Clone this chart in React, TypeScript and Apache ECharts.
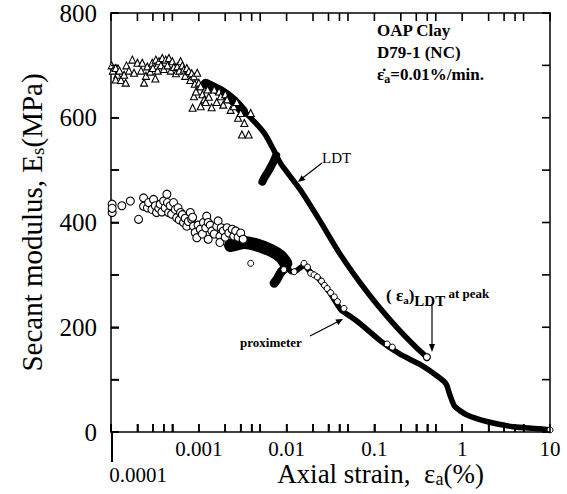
import React, { useEffect, useRef } from 'react';
import * as echarts from 'echarts';

const SERIF = '"Liberation Serif", "Times New Roman", serif';

// x axis (log) ticks and labels
const xTickValues = [
  0.0001, 0.0002, 0.0003, 0.0004, 0.0005,
  0.001, 0.002, 0.003, 0.004, 0.005,
  0.01, 0.02, 0.03, 0.04, 0.05,
  0.1, 0.2, 0.3, 0.4, 0.5,
  1, 2, 3, 4, 5, 10,
];
const xLabelValues = [0.0001, 0.001, 0.01, 0.1, 1, 10];
const xLabelTexts = ['0.0001', '0.001', '0.01', '0.1', '1', '10'];
const yTickValues = [0, 100, 200, 300, 400, 500, 600, 700, 800];

// LDT (triangles) scattered data at small strains
const ldtScatter = [
  [1.02e-4, 700], [1.05e-4, 690], [1.13e-4, 695], [1.18e-4, 682], [1.13e-4, 673],
  [1.25e-4, 690], [1.3e-4, 672], [1.41e-4, 682], [1.47e-4, 667], [1.5e-4, 700],
  [1.6e-4, 690], [1.75e-4, 711], [1.83e-4, 686], [2.0e-4, 705], [2.2e-4, 690],
  [2.27e-4, 705], [2.38e-4, 667], [2.5e-4, 680], [2.59e-4, 698], [2.8e-4, 688],
  [2.95e-4, 705], [3.0e-4, 695], [3.2e-4, 675], [3.24e-4, 711], [3.4e-4, 690],
  [3.52e-4, 708], [3.7e-4, 700], [3.84e-4, 714], [4.0e-4, 693], [4.2e-4, 711],
  [4.4e-4, 700], [4.57e-4, 714], [4.8e-4, 690], [4.99e-4, 708], [5.2e-4, 697],
  [5.5e-4, 685], [5.69e-4, 698], [6.0e-4, 690], [6.2e-4, 708], [6.5e-4, 700],
  [6.76e-4, 692], [7.0e-4, 680], [7.3e-4, 695], [7.7e-4, 689], [8.0e-4, 672],
  [8.3e-4, 685], [8.5e-4, 619], [8.8e-4, 641], [8.8e-4, 679], [9.0e-4, 665],
  [9.3e-4, 650], [9.6e-4, 686], [1.0e-3, 667], [1.05e-3, 660], [1.05e-3, 622],
  [1.1e-3, 645], [1.15e-3, 635], [1.2e-3, 630], [1.26e-3, 654], [1.3e-3, 640],
  [1.4e-3, 620], [1.5e-3, 654], [1.6e-3, 630], [1.7e-3, 650], [1.78e-3, 641],
  [1.9e-3, 625], [2.0e-3, 645], [2.1e-3, 635], [2.3e-3, 615], [2.5e-3, 622],
  [2.7e-3, 630], [2.8e-3, 600], [3.0e-3, 609], [3.1e-3, 568], [3.3e-3, 590],
  [3.7e-3, 568], [3.9e-3, 609],
];
// LDT dense band and continuous curve
const ldtBand = [[1.2e-3, 665], [1.8e-3, 650], [2.5e-3, 632], [3.2e-3, 612]];
const ldtLine = [
  [2.2e-3, 640], [2.8e-3, 622], [3.9e-3, 600], [5.6e-3, 570], [7.2e-3, 537],
  [8.6e-3, 512], [0.0145, 461], [0.024, 403], [0.0398, 342], [0.066, 289],
  [0.11, 241], [0.184, 198], [0.306, 160], [0.396, 143],
];
const ldtHook = [[5.3e-3, 478], [5.6e-3, 486], [6.2e-3, 498], [6.9e-3, 512], [7.6e-3, 528]];
const ldtPeak = [[0.396, 143]];

// Proximeter (circles) scattered data at small strains
const proxScatter = [
  [1.03e-4, 435], [1.03e-4, 419], [1.03e-4, 427], [1.33e-4, 432], [1.66e-4, 441],
  [2.06e-4, 406], [2.35e-4, 447], [2.35e-4, 431], [2.6e-4, 428], [2.68e-4, 438],
  [2.93e-4, 425], [3.05e-4, 444], [3.2e-4, 432], [3.3e-4, 419], [3.5e-4, 427],
  [3.63e-4, 435], [3.8e-4, 420], [3.98e-4, 441], [4.14e-4, 428], [4.33e-4, 454],
  [4.4e-4, 438], [4.53e-4, 419], [4.73e-4, 432], [4.9e-4, 416], [5.16e-4, 438],
  [5.4e-4, 425], [5.6e-4, 409], [5.8e-4, 428], [6.0e-4, 405], [6.2e-4, 419],
  [6.5e-4, 415], [6.7e-4, 400], [7.0e-4, 408], [7.3e-4, 393], [7.6e-4, 402],
  [8.0e-4, 419], [8.3e-4, 406], [8.5e-4, 410], [8.7e-4, 393], [9.1e-4, 381],
  [9.5e-4, 371], [9.8e-4, 395], [1.04e-3, 387], [1.1e-3, 378], [1.13e-3, 400],
  [1.2e-3, 390], [1.23e-3, 412], [1.28e-3, 400], [1.28e-3, 368], [1.35e-3, 395],
  [1.41e-3, 384], [1.5e-3, 378], [1.6e-3, 393], [1.66e-3, 403], [1.74e-3, 374],
  [1.74e-3, 362], [1.8e-3, 390], [1.9e-3, 384], [2.0e-3, 372], [2.1e-3, 390],
  [2.2e-3, 380], [2.4e-3, 387], [2.5e-3, 374], [2.63e-3, 384], [2.8e-3, 372],
  [3.0e-3, 380], [3.2e-3, 368],
];
// Proximeter dense band and continuous curve
const proxBand = [[2.3e-3, 356], [3.3e-3, 362], [4.6e-3, 357], [6.6e-3, 347], [8.6e-3, 335], [9.8e-3, 322]];
const proxLine = [
  [9.8e-3, 322], [0.0112, 306], [0.0122, 306], [0.0158, 318], [0.0188, 305],
  [0.0224, 296], [0.027, 279], [0.0317, 264], [0.0417, 233], [0.054, 220],
  [0.0698, 206], [0.117, 174], [0.198, 148], [0.331, 129], [0.556, 103],
  [0.66, 91], [0.72, 72], [0.82, 49], [1.12, 33], [1.9, 20], [3.8, 10],
  [7.6, 6], [10, 4],
];
const proxHook = [[7.2e-3, 284], [7.8e-3, 292], [8.6e-3, 305], [9.5e-3, 312]];
const proxOnLine = [
  [3.9e-3, 322], [9.3e-3, 310], [0.0122, 306], [0.0158, 322], [0.0173, 315],
  [0.0188, 303], [0.0205, 300], [0.0224, 296], [0.025, 288], [0.027, 280],
  [0.029, 274], [0.0317, 266], [0.035, 258], [0.038, 249], [0.045, 236],
  [0.14, 168], [0.16, 162], [10, 4],
];

const X_MIN = 0.0001;
const X_MAX = 10;
const Y_MIN = 0;
const Y_MAX = 800;

function xLabelFormatter(v: number): string {
  const i = xLabelValues.findIndex((t) => Math.abs(Math.log10(t) - Math.log10(v)) < 1e-6);
  if (i < 0) return '';
  return i === 0 ? '{low|' + xLabelTexts[0] + '}' : xLabelTexts[i];
}

export default function App() {
  const ref = useRef<HTMLDivElement>(null);
  useEffect(() => {
    if (!ref.current) return;
    const chart = echarts.init(ref.current, undefined, { renderer: 'svg' });
    const black = '#000';
    const TICK = 8;
    const tickStyle = () => ({ stroke: black, lineWidth: 1.6 });
    const lineSeries = (name: string, data: number[][], width: number) => ({
      name,
      type: 'line',
      data,
      symbol: 'none',
      smooth: 0.2,
      lineStyle: { color: black, width, cap: 'round', join: 'round' },
      z: 2,
    });
    const option: any = {
      animation: false,
      grid: { left: 111, right: 17, top: 13, bottom: 62, outerBoundsMode: 'none' },
      xAxis: [
        {
          type: 'log',
          min: X_MIN,
          max: X_MAX,
          position: 'bottom',
          name: 'Axial strain,  ε{sub|a}(%)',
          nameLocation: 'middle',
          nameGap: 27,
          nameMoveOverlap: false,
          nameTextStyle: {
            fontFamily: SERIF,
            fontSize: 27,
            color: '#000',
            padding: [0, 0, 0, 100],
            rich: { sub: { fontFamily: SERIF, fontSize: 18, color: '#000', padding: [11, 0, 0, 0] } },
          },
          axisLine: { show: true, onZero: false, lineStyle: { color: '#000', width: 1.5 } },
          axisTick: { show: true, inside: true, length: TICK, customValues: xTickValues, lineStyle: { color: '#000', width: 1.6 } },
          axisLabel: {
            show: true,
            customValues: xLabelValues,
            formatter: xLabelFormatter,
            margin: 6,
            fontFamily: SERIF,
            fontSize: 21,
            color: '#000',
            rich: { low: { fontFamily: SERIF, fontSize: 21, color: '#000', padding: [26, 0, 0, 54] } },
          },
          splitLine: { show: false },
        },
        {
          type: 'log',
          min: X_MIN,
          max: X_MAX,
          position: 'top',
          axisLine: { show: true, onZero: false, lineStyle: { color: '#000', width: 1.5 } },
          axisTick: { show: false },
          axisLabel: { show: false },
          splitLine: { show: false },
        },
      ],
      yAxis: [
        {
          type: 'value',
          min: Y_MIN,
          max: Y_MAX,
          interval: 100,
          position: 'left',
          name: 'Secant modulus, E{sub|s}(MPa)',
          nameLocation: 'middle',
          nameRotate: 90,
          nameGap: 64,
          nameMoveOverlap: false,
          nameTextStyle: {
            fontFamily: SERIF,
            fontSize: 29,
            color: '#000',
            rich: { sub: { fontFamily: SERIF, fontSize: 19, color: '#000', padding: [12, 0, 0, 0] } },
          },
          axisLine: { show: true, onZero: false, lineStyle: { color: '#000', width: 1.5 } },
          axisTick: { show: true, inside: true, length: TICK, lineStyle: { color: '#000', width: 1.6 } },
          axisLabel: {
            formatter: (v: number) => (v % 200 === 0 ? String(v) : ''),
            margin: 14,
            fontFamily: SERIF,
            fontSize: 25,
            color: '#000',
          },
          splitLine: { show: false },
        },
        {
          type: 'value',
          min: Y_MIN,
          max: Y_MAX,
          interval: 100,
          position: 'right',
          axisLabel: { show: false },
          axisTick: { show: false },
          axisLine: { show: true, onZero: false, lineStyle: { color: '#000', width: 1.5 } },
          splitLine: { show: false },
        },
      ],
      series: [
        // tick marks drawn through the axes' own scales (bottom/top and left/right)
        {
          name: 'x ticks',
          type: 'custom',
          data: xTickValues.map((v) => [v, Y_MIN]),
          clip: false,
          silent: true,
          z: 6,
          renderItem: (_p: any, api: any) => {
            const v = api.value(0);
            const b = api.coord([v, Y_MIN]);
            const t = api.coord([v, Y_MAX]);
            return {
              type: 'group',
              children: [
                { type: 'line', shape: { x1: b[0], y1: b[1], x2: b[0], y2: b[1] - TICK }, style: tickStyle() },
                { type: 'line', shape: { x1: t[0], y1: t[1], x2: t[0], y2: t[1] + TICK }, style: tickStyle() },
              ],
            };
          },
        },
        {
          name: 'y ticks',
          type: 'custom',
          data: yTickValues.map((v) => [X_MIN, v]),
          clip: false,
          silent: true,
          z: 6,
          renderItem: (_p: any, api: any) => {
            const v = api.value(1);
            const l = api.coord([X_MIN, v]);
            const r = api.coord([X_MAX, v]);
            return {
              type: 'group',
              children: [
                { type: 'line', shape: { x1: l[0], y1: l[1], x2: l[0] + TICK, y2: l[1] }, style: tickStyle() },
                { type: 'line', shape: { x1: r[0], y1: r[1], x2: r[0] - TICK, y2: r[1] }, style: tickStyle() },
              ],
            };
          },
        },
        lineSeries('LDT band', ldtBand, 10),
        lineSeries('LDT', ldtLine, 5.5),
        lineSeries('LDT hook', ldtHook, 8),
        {
          name: 'LDT points',
          type: 'scatter',
          data: ldtScatter,
          symbol: 'triangle',
          symbolSize: 7,
          itemStyle: { color: '#fff', borderColor: black, borderWidth: 1.1, opacity: 1 },
          z: 3,
        },
        lineSeries('proximeter band', proxBand, 13),
        lineSeries('proximeter', proxLine, 5.5),
        lineSeries('proximeter hook', proxHook, 9),
        {
          name: 'proximeter points',
          type: 'scatter',
          data: proxScatter,
          symbol: 'circle',
          symbolSize: 8,
          itemStyle: { color: '#fff', borderColor: black, borderWidth: 1.1, opacity: 1 },
          z: 3,
        },
        {
          name: 'proximeter marks',
          type: 'scatter',
          data: proxOnLine,
          symbol: 'circle',
          symbolSize: 6,
          itemStyle: { color: '#fff', borderColor: black, borderWidth: 1, opacity: 1 },
          z: 4,
        },
        {
          name: 'LDT peak',
          type: 'scatter',
          data: ldtPeak,
          symbol: 'circle',
          symbolSize: 7,
          itemStyle: { color: '#fff', borderColor: black, borderWidth: 1.2, opacity: 1 },
          z: 4,
        },
      ],
      graphic: [
        { type: 'line', shape: { x1: 112, y1: 432, x2: 112, y2: 462 }, style: { stroke: black, lineWidth: 2 } },
        {
          type: 'text', left: 377, top: 22,
          style: { text: 'OAP Clay', font: 'bold 17px ' + SERIF, fill: black },
        },
        {
          type: 'text', left: 377, top: 44,
          style: { text: 'D79-1 (NC)', font: 'bold 17px ' + SERIF, fill: black },
        },
        {
          type: 'text', left: 377, top: 66,
          style: {
            text: 'ε̇{s|a}=0.01%/min.',
            font: 'bold 17px ' + SERIF,
            fill: black,
            rich: { s: { font: 'bold 12px ' + SERIF, fill: black, padding: [8, 0, 0, 0] } },
          },
        },
        {
          type: 'text', left: 322, top: 150,
          style: { text: 'LDT', font: '15px ' + SERIF, fill: black },
        },
        { type: 'line', shape: { x1: 322, y1: 163, x2: 300, y2: 180 }, style: { stroke: black, lineWidth: 1.2 } },
        { type: 'polygon', shape: { points: [[298, 182], [305.4, 180.1], [301.6, 175.3]] }, style: { fill: black } },
        {
          type: 'text', left: 240, top: 336,
          style: { text: 'proximeter', font: 'bold 13px ' + SERIF, fill: black },
        },
        { type: 'line', shape: { x1: 310, y1: 336, x2: 340, y2: 320.5 }, style: { stroke: black, lineWidth: 1.2 } },
        { type: 'polygon', shape: { points: [[343, 319], [338.2, 324.9], [335.4, 319.5]] }, style: { fill: black } },
        {
          type: 'text', left: 386, top: 287,
          style: {
            text: '( ε{s|a}){l|LDT}{p| at peak}',
            font: 'bold 17px ' + SERIF,
            fill: black,
            rich: {
              s: { font: 'bold 11px ' + SERIF, fill: black, padding: [8, 0, 0, 0] },
              l: { font: 'bold 15px ' + SERIF, fill: black, padding: [10, 0, 0, 0] },
              p: { font: 'bold 13px ' + SERIF, fill: black, padding: [0, 0, 4, 0] },
            },
          },
        },
        { type: 'line', shape: { x1: 432, y1: 304, x2: 432, y2: 347 }, style: { stroke: black, lineWidth: 1.2 } },
        { type: 'polygon', shape: { points: [[432, 352], [429, 344], [435, 344]] }, style: { fill: black } },
      ],
    };
    chart.setOption(option);
    return () => chart.dispose();
  }, []);
  return (
    <div
      ref={ref}
      style={{ position: 'fixed', left: 0, top: 0, width: 567, height: 494, background: '#fff' }}
    />
  );
}
